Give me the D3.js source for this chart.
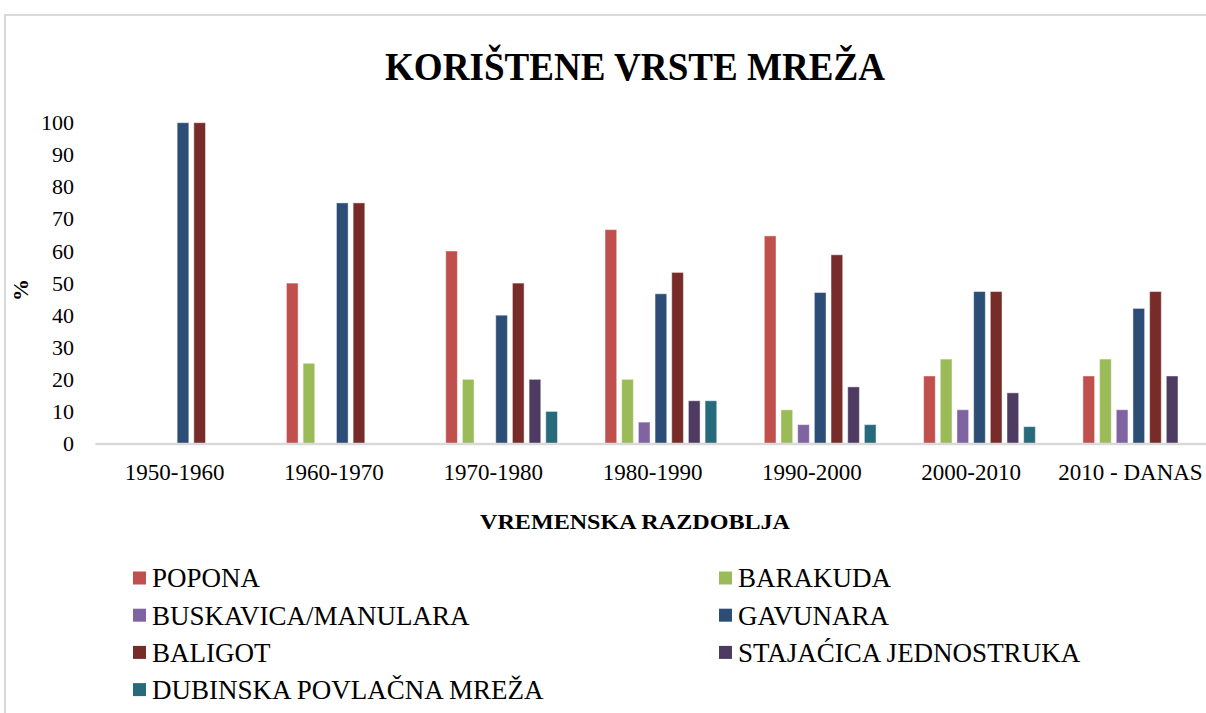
<!DOCTYPE html>
<html>
<head>
<meta charset="utf-8">
<script src="https://cdn.jsdelivr.net/npm/d3@7"></script>
<style>
    body { margin: 0; background: #fff; }
    svg { display: block; font-family: "Liberation Serif", "Times New Roman", serif; }
    .tick text { fill: #000; }
</style>
</head>
<body>
<div id="chart"></div>
<script>
// Korištene vrste mreža - grouped bar chart

const categories = ["1950-1960", "1960-1970", "1970-1980", "1980-1990", "1990-2000", "2000-2010", "2010 - DANAS"];
const seriesNames = ["POPONA", "BARAKUDA", "BUSKAVICA/MANULARA", "GAVUNARA", "BALIGOT", "STAJAĆICA JEDNOSTRUKA", "DUBINSKA POVLAČNA MREŽA"];
const seriesColors = ["#C0504D", "#9BBB59", "#8064A2", "#2C4D75", "#772C2A", "#4D3B62", "#276A7C"];

const popona = [null, 50, 60, 66.67, 64.71, 21.05, 21.05];
const barakuda = [null, 25, 20, 20, 10.5, 26.32, 26.32];
const buskavica = [null, null, null, 6.67, 5.88, 10.53, 10.53];
const gavunara = [100, 75, 40, 46.67, 47.06, 47.37, 42.11];
const baligot = [100, 75, 50, 53.33, 58.82, 47.37, 47.37];
const stajacica = [null, null, 20, 13.33, 17.65, 15.79, 21.05];
const dubinska = [null, null, 10, 13.33, 5.88, 5.26, null];

const yTicks = [0, 10, 20, 30, 40, 50, 60, 70, 80, 90, 100];

const seriesValues = [popona, barakuda, buskavica, gavunara, baligot, stajacica, dubinska];

const W = 1206, H = 713;
const plot = { left: 95, top: 122.7, bottom: 443.5, band: 159.3 };

const svg = d3.select("#chart").append("svg")
    .attr("width", W)
    .attr("height", H);

// outer frame (cut off on right and bottom)
svg.append("path")
    .attr("d", `M5,${H}V15H${W}`)
    .attr("fill", "none")
    .attr("stroke", "#d9d9d9")
    .attr("stroke-width", 2);

svg.append("text")
    .attr("x", 635)
    .attr("y", 80)
    .attr("text-anchor", "middle")
    .attr("font-weight", "bold")
    .attr("font-size", 40)
    .attr("textLength", 500)
    .attr("lengthAdjust", "spacingAndGlyphs")
    .text("KORIŠTENE VRSTE MREŽA");

const x0 = d3.scaleBand()
    .domain(categories)
    .range([plot.left, plot.left + plot.band * categories.length])
    .padding(0);

// first slot is an empty placeholder series, as in the original
const x1 = d3.scaleBand()
    .domain([""].concat(seriesNames))
    .range([15.45, plot.band - 15.45])
    .paddingInner(0.3)
    .paddingOuter(0);

const y = d3.scaleLinear().domain([0, 100]).range([plot.bottom, plot.top]);

// y axis labels
const yAxis = svg.append("g")
    .attr("transform", "translate(74,0)")
    .call(d3.axisLeft(y).tickValues(yTicks).tickSize(0).tickPadding(0));
yAxis.select(".domain").remove();
yAxis.selectAll("text")
    .attr("font-size", 22)
    .attr("font-family", "Liberation Serif, serif");

svg.append("text")
    .attr("transform", "translate(28,290) rotate(-90)")
    .attr("text-anchor", "middle")
    .attr("font-weight", "bold")
    .attr("font-size", 22)
    .text("%");

// bars
const rows = [];
categories.forEach((cat, i) => {
    seriesNames.forEach((name, j) => {
        const v = seriesValues[j][i];
        if (v !== null) rows.push({ cat, name, value: v, color: seriesColors[j] });
    });
});

svg.append("g").selectAll("rect")
    .data(rows)
    .enter().append("rect")
    .attr("x", d => x0(d.cat) + x1(d.name))
    .attr("y", d => y(d.value))
    .attr("width", x1.bandwidth())
    .attr("height", d => y(0) - y(d.value))
    .attr("fill", d => d.color)
    .attr("stroke", "#ffffff")
    .attr("stroke-opacity", 0.45)
    .attr("stroke-width", 1);

// x axis
const xAxis = svg.append("g")
    .attr("transform", `translate(0,${y(0)})`)
    .call(d3.axisBottom(x0).tickSize(0).tickSizeOuter(0).tickPadding(20));
xAxis.select(".domain")
    .attr("stroke", "#d9d9d9")
    .attr("stroke-width", 2.5);
xAxis.selectAll("text")
    .attr("font-size", 23)
    .attr("font-family", "Liberation Serif, serif");

svg.append("text")
    .attr("x", 635)
    .attr("y", 529)
    .attr("text-anchor", "middle")
    .attr("font-weight", "bold")
    .attr("font-size", 22)
    .attr("textLength", 310)
    .attr("lengthAdjust", "spacingAndGlyphs")
    .text("VREMENSKA RAZDOBLJA");

// legend, two columns
const legend = svg.append("g").selectAll("g")
    .data(seriesNames)
    .enter().append("g")
    .attr("transform", (d, i) => `translate(${i % 2 === 0 ? 133 : 719},${578 + Math.floor(i / 2) * 37.2})`);

legend.append("rect")
    .attr("x", 0)
    .attr("y", -6.5)
    .attr("width", 13)
    .attr("height", 13)
    .attr("fill", (d, i) => seriesColors[i]);

legend.append("text")
    .attr("x", 19)
    .attr("dy", "0.35em")
    .attr("font-size", 27)
    .text(d => d);
</script>
</body>
</html>
